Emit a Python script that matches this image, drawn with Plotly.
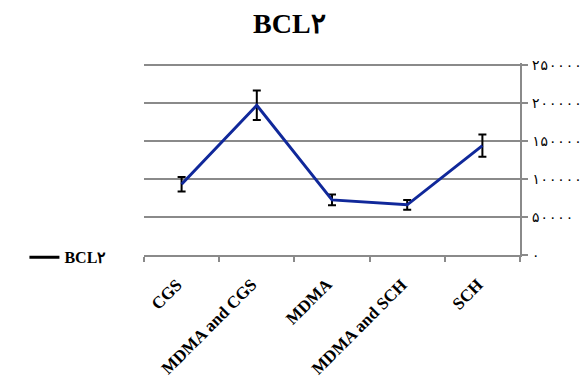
import plotly.graph_objects as go

# Group names and BCL2 expression means with their error margins
groups = ["CGS", "MDMA and CGS", "MDMA", "MDMA and SCH", "SCH"]
bcl2_mean = [93000, 197000, 72500, 66000, 144000]
bcl2_err = [9500, 19500, 7000, 6500, 14700]

# Value-axis ticks written with Persian digits
y_tickvals = [0, 50000, 100000, 150000, 200000, 250000]
y_ticktext = ["۰", "۵۰۰۰۰", "۱۰۰۰۰۰", "۱۵۰۰۰۰", "۲۰۰۰۰۰", "۲۵۰۰۰۰"]

series_name = "BCL۲"
serif = "Liberation Serif"
axis_grey = "#8a8a8a"

fig = go.Figure()

fig.add_trace(go.Scatter(
    x=groups,
    y=bcl2_mean,
    mode="lines",
    line=dict(color="#10289a", width=3),
    error_y=dict(type="data", array=bcl2_err, visible=True,
                 color="black", thickness=2, width=4),
    showlegend=False,
    name=series_name,
))

# Legend entry drawn with a black key line
fig.add_trace(go.Scatter(
    x=[None], y=[None],
    mode="lines",
    line=dict(color="black", width=3),
    name=series_name,
    showlegend=True,
))

# Slanted category labels placed under each category position
for g in groups:
    fig.add_annotation(
        x=g, xref="x",
        y=-0.09, yref="paper",
        text=g,
        showarrow=False,
        textangle=-45,
        xanchor="right", yanchor="top",
        xshift=7,
        font=dict(family=serif, size=17, color="black", weight="bold"),
    )

fig.update_layout(
    width=587,
    height=391,
    margin=dict(l=144, r=67, t=63, b=135.5),
    paper_bgcolor="white",
    plot_bgcolor="white",
    title=dict(
        text=series_name,
        x=0.493, xref="container", xanchor="center",
        y=0.94, yref="container", yanchor="middle",
        font=dict(family=serif, size=28, color="black", weight="bold"),
    ),
    legend=dict(
        x=-0.318, xanchor="left",
        y=-0.012, yanchor="middle",
        font=dict(family=serif, size=16, color="black", weight="bold"),
        bgcolor="rgba(0,0,0,0)",
    ),
    xaxis=dict(
        type="category",
        range=[-0.5, 4.5],
        showgrid=False,
        showline=True, linecolor=axis_grey, linewidth=1.5,
        ticks="outside", tickson="boundaries", ticklen=5,
        tickcolor=axis_grey, tickwidth=1.5,
        showticklabels=False,
        automargin=False,
        fixedrange=True,
    ),
    yaxis=dict(
        side="right",
        range=[0, 252624],
        tickvals=y_tickvals,
        ticktext=y_ticktext,
        showgrid=True, gridcolor=axis_grey, gridwidth=1.5,
        zeroline=False,
        showline=True, linecolor=axis_grey, linewidth=1.5,
        ticks="outside", ticklen=6, tickcolor=axis_grey, tickwidth=1.5,
        ticklabelstandoff=1,
        automargin=False,
        tickfont=dict(family="DejaVu Sans Mono", size=14, color="black"),
        fixedrange=True,
    ),
)

fig.write_html("out.html")
